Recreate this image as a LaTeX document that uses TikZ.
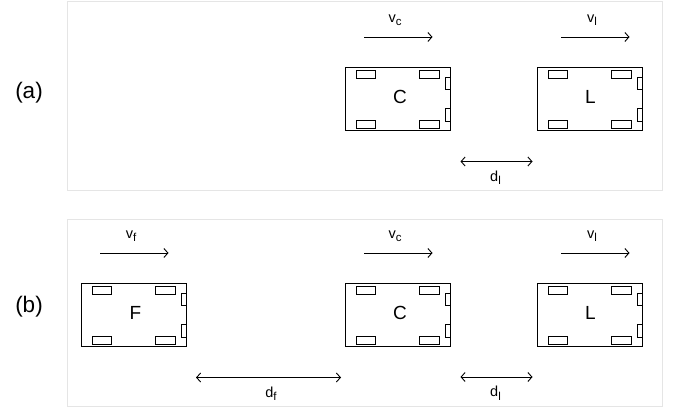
\documentclass[tikz,border=0pt]{standalone}
\usepackage{fontspec}
\usetikzlibrary{arrows.meta}
\setmainfont{Liberation Sans}
\newcommand{\lowsub}[1]{\raisebox{-3.5pt}{\fontsize{11.5}{12}\selectfont #1}}
\tikzset{
carbody/.style={draw,line width=1pt,minimum width=105.5pt,minimum height=62.5pt,inner sep=0pt},
carname/.style={inner sep=0pt,font=\fontsize{19}{21}\selectfont},
carpart/.style={draw,line width=.9pt},
framebox/.style={draw=gray!20,line width=.9pt},
lab/.style={inner sep=0pt,font=\fontsize{14.5}{16}\selectfont},
tag/.style={inner sep=0pt,font=\fontsize{22.5}{24}\selectfont},
span/.style={line width=.9pt,{Straight Barb[length=4pt,width=9pt]}-{Straight Barb[length=4pt,width=9pt]}},
speed/.style={line width=.9pt,-{Straight Barb[length=4pt,width=9pt]}}
}
\begin{document}
\begin{tikzpicture}[x=1pt,y=-1pt]
\useasboundingbox (0,0) rectangle (678,411);
\draw[framebox] (67,1) rectangle (662,190);
\draw[framebox] (67,219) rectangle (662,406);
\node[tag] (taga) at (29,93) {(a)};
\node[tag] (tagb) at (29,307) {(b)};
% cars: centre x / centre y / name / letter / letter x
\foreach \x/\y/\n/\t/\lx in {398/99/ca/C/400,590/99/la/L/590.5,134/315/fb/F/135.5,398/315/cb/C/400,590/315/lb/L/590.5}
{
\node[carbody] (\n) at (\x,\y) {};
\node[carname] (name\n) at (\lx,\y-2) {\t};
\foreach \i in {-32,31.5}
{
\draw[carpart] (\x+\i-9.7,\y-28.7) rectangle (\x+\i+9.7,\y-21);
\draw[carpart] (\x+\i-9.7,\y+21.3) rectangle (\x+\i+9.7,\y+29);
}
\draw[carpart] (\x+47.3,\y-21.7) rectangle (\x+52.7,\y-9.3);
\draw[carpart] (\x+47.3,\y+9.7) rectangle (\x+52.7,\y+22);
}
% speeds
\foreach \x/\y/\n/\s in {364/37/ca/c,561/37/la/l,100/253/fb/f,364/253/cb/c,561/253/lb/l}
{
\coordinate (v\n s) at (\x,\y);
\coordinate (v\n e) at (\x+68.5,\y);
\draw[speed] (v\n s)--(v\n e);
\node[lab] (vlab\n) at (\x+31,\y-17) {v\lowsub{\s}};
}
% gaps
\foreach \x/\w/\y/\n/\s/\lx in {460.5/72/161.5/a/l/495.5,460.5/72/377/b/l/495.5,196/145/377.5/c/f/271}
{
\coordinate (d\n s) at (\x,\y);
\coordinate (d\n e) at (\x+\w,\y);
\draw[span] (d\n s)--(d\n e);
\node[lab] (dlab\n) at (\lx,\y+16) {d\lowsub{\s}};
}
\end{tikzpicture}
\end{document}
